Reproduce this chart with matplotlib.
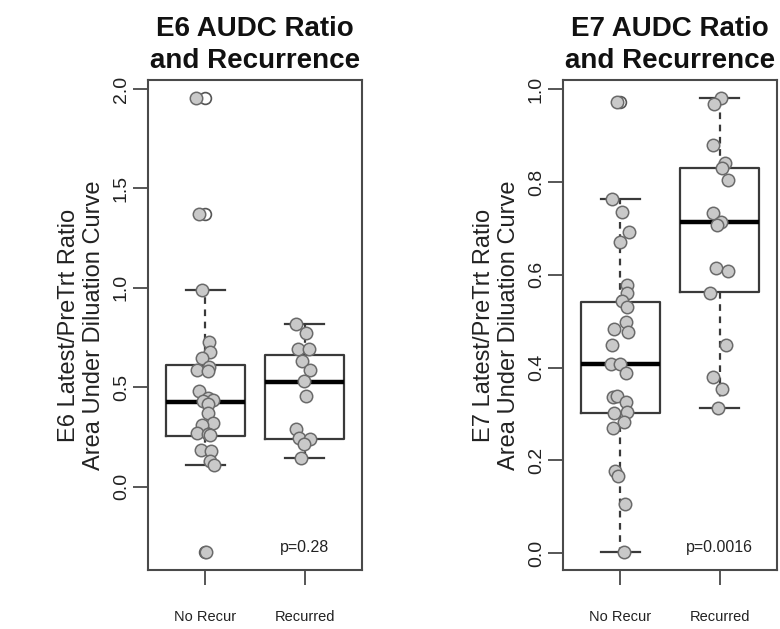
import numpy as np
import matplotlib.pyplot as plt
from matplotlib import transforms

plt.rcParams['font.family'] = ['Liberation Sans', 'DejaVu Sans']

groups = ['No Recur', 'Recurred']

# E6 panel: values, with the horizontal jitter of each point
e6_norecur = [1.955, 1.37, 0.987, 0.729, 0.677, 0.648, 0.603, 0.586, 0.581, 0.480,
              0.447, 0.438, 0.430, 0.413, 0.368, 0.321, 0.309, 0.267, 0.262, 0.257,
              0.183, 0.178, 0.128, 0.107, -0.33]
e6_norecur_jit = [-0.10, -0.07, -0.04, 0.035, 0.05, -0.03, 0.04, -0.09, 0.025, -0.065,
                  0.025, 0.08, -0.025, 0.025, 0.03, 0.075, -0.04, -0.085, 0.025, 0.05,
                  -0.05, 0.06, 0.05, 0.085, 0.01]
e6_recur = [0.816, 0.771, 0.694, 0.694, 0.631, 0.589, 0.531, 0.458, 0.291, 0.245,
            0.237, 0.212, 0.145]
e6_recur_jit = [-0.09, 0.015, -0.065, 0.05, -0.03, 0.06, -0.01, 0.015, -0.085, -0.06,
                0.06, -0.01, -0.04]

# E7 panel
e7_norecur = [0.973, 0.764, 0.736, 0.693, 0.670, 0.578, 0.562, 0.544, 0.530, 0.499,
              0.483, 0.476, 0.448, 0.407, 0.409, 0.388, 0.336, 0.338, 0.326, 0.305,
              0.303, 0.283, 0.269, 0.177, 0.167, 0.106, 0.003]
e7_norecur_jit = [-0.04, -0.09, 0.02, 0.09, 0.0, 0.07, 0.07, 0.02, 0.07, 0.06,
                  -0.07, 0.08, -0.09, -0.10, 0.0, 0.06, -0.08, -0.03, 0.06, 0.07,
                  -0.07, 0.04, -0.08, -0.06, -0.02, 0.05, 0.04]
e7_recur = [0.982, 0.969, 0.879, 0.842, 0.831, 0.804, 0.734, 0.714, 0.707, 0.614,
            0.608, 0.562, 0.448, 0.379, 0.355, 0.314]
e7_recur_jit = [0.01, -0.06, -0.07, 0.06, 0.02, 0.09, -0.07, 0.01, -0.03, -0.04,
                0.09, -0.10, 0.07, -0.07, 0.02, -0.02]

# box statistics as drawn in the picture
e6_box = [dict(q1=0.255, med=0.425, q3=0.610, whislo=0.107, whishi=0.987, fliers=[1.955, 1.37, -0.33]),
          dict(q1=0.240, med=0.525, q3=0.661, whislo=0.145, whishi=0.816, fliers=[])]
e7_box = [dict(q1=0.303, med=0.407, q3=0.542, whislo=0.003, whishi=0.764, fliers=[0.973]),
          dict(q1=0.563, med=0.714, q3=0.831, whislo=0.314, whishi=0.982, fliers=[])]

panels = [
    dict(title='E6 AUDC Ratio\nand Recurrence', ylabel='E6 Latest/PreTrt Ratio\nArea Under Diluation Curve',
         box=e6_box, pts=[e6_norecur, e6_recur], jit=[e6_norecur_jit, e6_recur_jit],
         ylim=(-0.42, 2.046), yticks=[0.0, 0.5, 1.0, 1.5, 2.0], p='p=0.28', left=148),
    dict(title='E7 AUDC Ratio\nand Recurrence', ylabel='E7 Latest/PreTrt Ratio\nArea Under Diluation Curve',
         box=e7_box, pts=[e7_norecur, e7_recur], jit=[e7_norecur_jit, e7_recur_jit],
         ylim=(-0.036, 1.02), yticks=[0.0, 0.2, 0.4, 0.6, 0.8, 1.0], p='p=0.0016', left=563),
]

W, H = 780, 629
fig = plt.figure(figsize=(W / 100, H / 100), dpi=100)

edge = '#3a3a3a'
for pn in panels:
    ax = fig.add_axes([pn['left'] / W, (H - 570) / H, 214 / W, 490 / H])
    ax.bxp(pn['box'], positions=[1, 2], widths=0.8, showfliers=True,
           boxprops=dict(color=edge, linewidth=1.6),
           whiskerprops=dict(color=edge, linewidth=1.6, linestyle=(0, (3, 2.5))),
           capprops=dict(color=edge, linewidth=1.6),
           medianprops=dict(color='black', linewidth=3.2),
           flierprops=dict(marker='o', markersize=8.5, markerfacecolor='none',
                           markeredgecolor='#555555', markeredgewidth=1.2),
           capwidths=0.4)
    for i, (vals, jit) in enumerate(zip(pn['pts'], pn['jit'])):
        ax.scatter(np.array(jit) + i + 1, vals, s=80, facecolor='#c9c9c9',
                   edgecolor='#6a6a6a', linewidth=1.1, zorder=4)
    ax.set_xlim(0.42, 2.58)
    ax.set_ylim(*pn['ylim'])
    ax.set_yticks(pn['yticks'])
    ax.set_yticklabels(['%.1f' % v for v in pn['yticks']])
    ax.set_xticks([1, 2])
    ax.set_xticklabels(groups)
    ax.tick_params(axis='y', labelrotation=90, labelsize=14, length=11, width=1.2,
                   color=edge, pad=2, labelcolor='#222222')
    ax.tick_params(axis='x', labelsize=10.5, length=11, width=1.2, color=edge,
                   pad=18, labelcolor='#222222')
    for lbl in ax.get_yticklabels():
        lbl.set_va('center')
    for s in ax.spines.values():
        s.set_color('#4a4a4a')
        s.set_linewidth(1.5)
    ax.set_title(pn['title'], fontsize=20, fontweight='bold', pad=9, linespacing=1.25,
                 color='#111111')
    ax.set_ylabel(pn['ylabel'], fontsize=17, linespacing=1.2, color='#222222')
    ax.yaxis.set_label_coords(-0.20, 0.5)
    trans = transforms.blended_transform_factory(ax.transData, ax.transAxes)
    ax.text(2, 0.045, pn['p'], transform=trans, ha='center', va='center',
            fontsize=11.5, color='#222222')

fig.savefig('out.png', dpi=100)
